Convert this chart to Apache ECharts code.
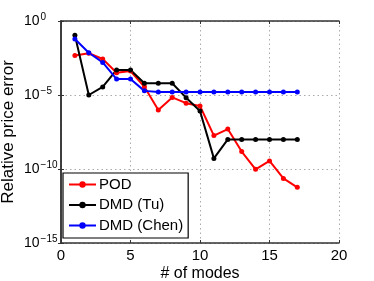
<!DOCTYPE html>
<html><head><meta charset="utf-8">
<script src="https://cdn.jsdelivr.net/npm/echarts@6/dist/echarts.min.js"></script>
<style>html,body{margin:0;padding:0;background:#fff}#c{width:374px;height:281px}</style>
</head><body><div id="c"></div>
<script>
const modes = [1,2,3,4,5,6,7,8,9,10,11,12,13,14,15,16,17];
const pod = [4.6e-3,6.6e-3,2.7e-3,3.2e-4,4.2e-4,3.6e-5,9.8e-7,6.9e-6,2.8e-6,1.8e-6,1.8e-8,5.0e-8,1.5e-9,9.5e-11,3.5e-10,2.3e-11,5.8e-12];
const dmdTu = [1.1e-1,1.0e-5,3.5e-5,4.9e-4,4.9e-4,6.2e-5,6.2e-5,6.2e-5,6.6e-6,8.3e-7,5.2e-10,1e-8,1e-8,1e-8,1e-8,1e-8,1e-8];
const dmdChen = [6.0e-2,7.2e-3,1.6e-3,1.2e-4,1.2e-4,1.9e-5,1.6e-5,1.6e-5,1.6e-5,1.6e-5,1.6e-5,1.6e-5,1.6e-5,1.6e-5,1.6e-5,1.6e-5,1.6e-5];
const seriesNames = ['POD','DMD (Tu)','DMD (Chen)'];
const colors = ['#ff0000','#000000','#0000ff'];
const xTicks = {min:0, max:20, step:5};
const yTicks = {min:1e-15, max:1, stepExp:5};

const font = 'Liberation Sans';
const chart = echarts.init(document.getElementById('c'));
function mk(name, vals, color){
  return {name, type:'line', data: modes.map((m,i)=>[m, vals[i]]), color,
    symbol:'circle', symbolSize:5, lineStyle:{width:2, color}, itemStyle:{color},
    animation:false, xAxisIndex:0, yAxisIndex:0};
}
const grid = {left:61, top:21, right:35, bottom:38, containLabel:false, outerBoundsMode:'none'};
const split = {show:true, lineStyle:{type:[1.5,3], color:'#aaaaaa', width:1}};
const axLine = {show:true, lineStyle:{color:'#333', width:1.5}};
const axTick = {show:true, inside:true, length:3, lineStyle:{color:'#333'}};
chart.setOption({
  animation:false,
  textStyle:{fontFamily:font},
  grid,
  legend:{
    orient:'vertical', left:63, top:173,
    data:seriesNames, itemWidth:27, itemHeight:8, itemGap:5.5,
    backgroundColor:'#fff', borderColor:'#000', borderWidth:1.2, borderRadius:0,
    padding:[4,5,5,5],
    textStyle:{fontFamily:font, fontSize:15, lineHeight:15, color:'#000', padding:[0,0,0,-2]}
  },
  xAxis:[{
    type:'value', min:xTicks.min, max:xTicks.max, interval:xTicks.step,
    name:'# of modes', nameLocation:'middle', nameGap:23, nameMoveOverlap:false,
    nameTextStyle:{fontFamily:font, fontSize:16, color:'#000'},
    axisLine:axLine, axisTick:axTick,
    axisLabel:{fontFamily:font, fontSize:15, color:'#000', margin:5},
    splitLine:split
  },{
    type:'value', min:xTicks.min, max:xTicks.max, interval:xTicks.step, position:'top',
    axisLine:axLine, axisTick:axTick, axisLabel:{show:false}, splitLine:{show:false}
  }],
  yAxis:[{
    type:'log', logBase:10, min:yTicks.min, max:yTicks.max, interval:yTicks.stepExp,
    name:'Relative price error', nameLocation:'middle', nameGap:44, nameMoveOverlap:false,
    nameTextStyle:{fontFamily:font, fontSize:17, color:'#000'},
    axisLine:axLine, axisTick:axTick,
    axisLabel:{margin:37, align:'left', formatter:function(v){
        const e = Math.round(Math.log10(v));
        return '{b|10}{s|' + (e<0 ? '\u2212'+(-e) : e) + '}';
      },
      rich:{b:{fontFamily:font, fontSize:14, color:'#000', verticalAlign:'bottom', lineHeight:14},
            s:{fontFamily:font, fontSize:10, color:'#000', verticalAlign:'bottom', lineHeight:10, padding:[0,0,6,1]}}},
    splitLine:split
  },{
    type:'log', logBase:10, min:yTicks.min, max:yTicks.max, interval:yTicks.stepExp, position:'right',
    axisLine:axLine, axisTick:axTick, axisLabel:{show:false}, splitLine:{show:false}
  }],
  series:[mk(seriesNames[0], pod, colors[0]), mk(seriesNames[1], dmdTu, colors[1]), mk(seriesNames[2], dmdChen, colors[2])]
});
</script></body></html>
